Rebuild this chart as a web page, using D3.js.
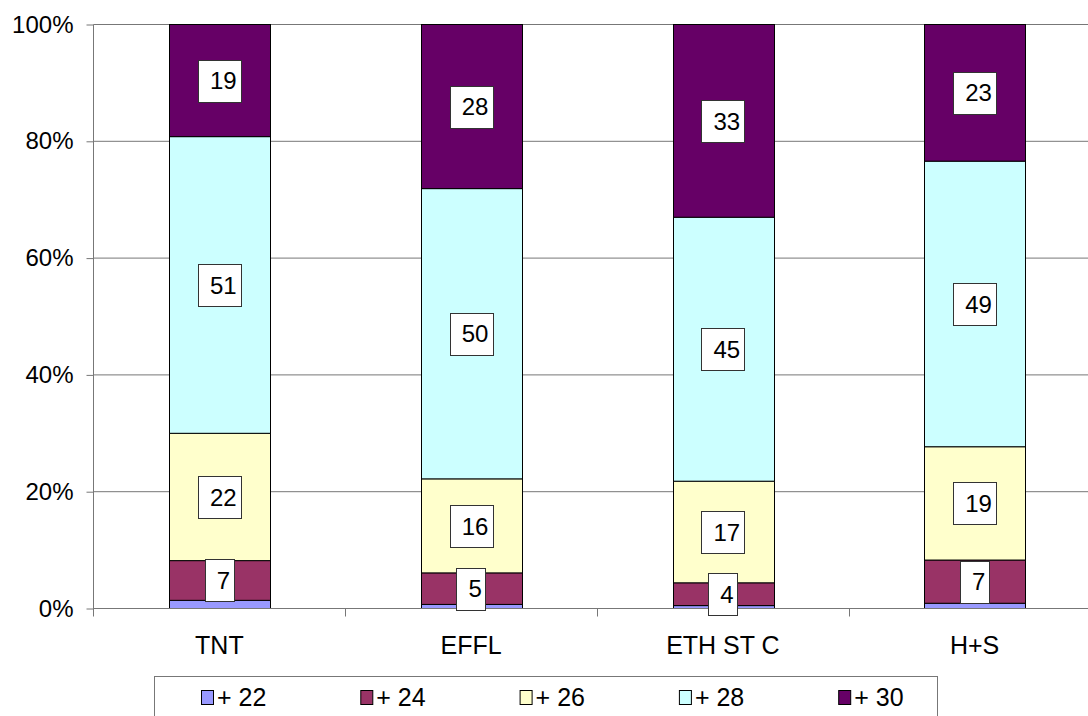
<!DOCTYPE html>
<html>
<head>
<meta charset="utf-8">
<script src="https://cdn.jsdelivr.net/npm/d3@7"></script>
<style>
  body { margin: 0; background: #fff; }
  svg { display: block; font-family: "Liberation Sans", Arial, sans-serif; }
</style>
</head>
<body>
<svg width="1088" height="716"></svg>
<script>
// categories and series (percent of each bar)
const categories = ['TNT', 'EFFL', 'ETH ST C', 'H+S'];
const seriesNames = ['+ 22', '+ 24', '+ 26', '+ 28', '+ 30'];
const seriesColors = ['#9999FF', '#993366', '#FFFFCC', '#CCFFFF', '#660066'];
const v22 = [1.4, 0.7, 0.5, 0.9];
const v24 = [6.8, 5.4, 3.9, 7.4];
const v26 = [21.8, 16.1, 17.4, 19.4];
const v28 = [50.8, 49.7, 45.2, 48.9];
const v30 = [19.2, 28.1, 33.0, 23.4];
const yTicks = [0, 0.2, 0.4, 0.6, 0.8, 1];

const svg = d3.select('svg');

const rows = categories.map((c, i) => ({
  cat: c,
  '+ 22': v22[i], '+ 24': v24[i], '+ 26': v26[i], '+ 28': v28[i], '+ 30': v30[i]
}));

const stack = d3.stack().keys(seriesNames).offset(d3.stackOffsetExpand);
const layers = stack(rows);

const x = d3.scaleBand()
  .domain(categories)
  .range([93.5, 1100.5])
  .paddingInner(0.6)
  .paddingOuter(0.3);

const y = d3.scaleLinear().domain([0, 1]).range([608.5, 24.5]);

const lineCol = '#777';

// gridlines
svg.append('g')
  .selectAll('line')
  .data(yTicks.slice(1))
  .join('line')
  .attr('x1', 93.5).attr('x2', 1100)
  .attr('y1', d => y(d)).attr('y2', d => y(d))
  .attr('stroke', lineCol).attr('stroke-width', 1);

// y axis
const yAxis = svg.append('g')
  .attr('transform', 'translate(93.5,0)')
  .call(d3.axisLeft(y).tickValues(yTicks).tickFormat(d3.format('.0%')).tickSize(7).tickPadding(13));
yAxis.select('.domain').remove();
yAxis.selectAll('.tick line').attr('stroke', lineCol);
yAxis.selectAll('.tick text')
  .attr('fill', '#000')
  .style('font-size', '24px')
  .style('font-family', '"Liberation Sans", Arial, sans-serif');
svg.append('line')
  .attr('x1', 93.5).attr('x2', 93.5)
  .attr('y1', y(1)).attr('y2', y(0) + 8)
  .attr('stroke', lineCol);

// bars
svg.append('g')
  .selectAll('g')
  .data(layers)
  .join('g')
  .attr('fill', (d, i) => seriesColors[i])
  .selectAll('rect')
  .data(d => d)
  .join('rect')
  .attr('x', d => Math.round(x(d.data.cat)) + 0.5)
  .attr('width', Math.round(x.bandwidth()))
  .attr('y', d => y(d[1]))
  .attr('height', d => y(d[0]) - y(d[1]))
  .attr('stroke', '#000')
  .attr('stroke-width', 1);

// x axis baseline and category ticks
svg.append('line')
  .attr('x1', 93.5).attr('x2', 1100)
  .attr('y1', y(0)).attr('y2', y(0))
  .attr('stroke', lineCol);
svg.append('g')
  .selectAll('line')
  .data(categories.slice(1))
  .join('line')
  .attr('x1', d => Math.round(x(d) - x.step() * 0.3) + 0.5)
  .attr('x2', d => Math.round(x(d) - x.step() * 0.3) + 0.5)
  .attr('y1', y(0)).attr('y2', y(0) + 8)
  .attr('stroke', lineCol);

svg.append('g')
  .selectAll('text')
  .data(categories)
  .join('text')
  .attr('x', d => x(d) + x.bandwidth() / 2)
  .attr('y', 654)
  .attr('text-anchor', 'middle')
  .style('font-size', '25px')
  .text(d => d);

// data labels (not for + 22)
const labelG = svg.append('g');
layers.forEach((layer, si) => {
  if (si === 0) return;
  layer.forEach(d => {
    const val = d.data[layer.key];
    const cx = x(d.data.cat) + x.bandwidth() / 2;
    const cy = (y(d[0]) + y(d[1])) / 2;
    const txt = String(Math.round(val));
    const w = txt.length * 13.4 + 16;
    const g = labelG.append('g');
    g.append('rect')
      .attr('x', Math.round(cx - w / 2) + 0.5)
      .attr('y', Math.round(cy - 21) + 0.5)
      .attr('width', Math.round(w))
      .attr('height', 42)
      .attr('fill', '#fff')
      .attr('stroke', '#333')
      .attr('stroke-width', 1);
    g.append('text')
      .attr('x', cx + 4)
      .attr('y', cy)
      .attr('dy', '0.36em')
      .attr('text-anchor', 'middle')
      .style('font-size', '24px')
      .text(txt);
  });
});

// legend
const legend = svg.append('g');
legend.append('rect')
  .attr('x', 154.5).attr('y', 676.5)
  .attr('width', 783).attr('height', 60)
  .attr('fill', '#fff')
  .attr('stroke', lineCol);
const items = legend.selectAll('g.item')
  .data(seriesNames)
  .join('g')
  .attr('class', 'item')
  .attr('transform', (d, i) => `translate(${201 + i * 159.3},0)`);
items.append('rect')
  .attr('x', 0.5).attr('y', 690.5)
  .attr('width', 12).attr('height', 14)
  .attr('fill', (d, i) => seriesColors[i])
  .attr('stroke', '#000');
items.append('text')
  .attr('x', 16)
  .attr('y', 706)
  .style('font-size', '25px')
  .text(d => d);
</script>
</body>
</html>
